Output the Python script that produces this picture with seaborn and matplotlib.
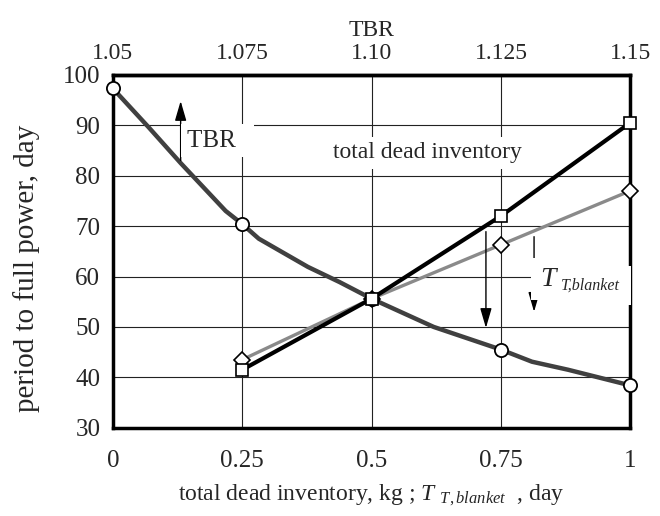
import numpy as np
import pandas as pd
import seaborn as sns
import matplotlib.pyplot as plt

# TBR curve (dark gray)
tbrX = [0, 0.07, 0.131, 0.218, 0.25, 0.282, 0.321, 0.377, 0.438, 0.5, 0.62, 0.75, 0.81, 0.88, 1]
tbrY = [97.3, 89.5, 82.5, 73.0, 70.4, 67.5, 65.2, 61.9, 58.9, 55.6, 50.0, 45.5, 43.1, 41.5, 38.4]
tbrMarkX = [0, 0.25, 0.5, 0.75, 1]
tbrMarkY = [97.3, 70.4, 55.6, 45.5, 38.4]

# total dead inventory (black) and T_T,blanket (gray)
invX = [0.25, 0.5, 0.75, 1]
invY = [41.5, 55.6, 72.0, 90.5]
blkX = [0.25, 0.5, 0.75, 1]
blkY = [43.5, 55.6, 66.3, 77.0]

xTicks = [0, 0.25, 0.5, 0.75, 1]
xTickLabels = ["0", "0.25", "0.5", "0.75", "1"]
topTicks = [1.05, 1.075, 1.10, 1.125, 1.15]
topTickLabels = ["1.05", "1.075", "1.10", "1.125", "1.15"]
yTicks = [30, 40, 50, 60, 70, 80, 90, 100]

sns.set_style("white")
plt.rcParams["font.family"] = ["Liberation Serif", "DejaVu Serif"]
plt.rcParams["mathtext.fontset"] = "custom"
plt.rcParams["mathtext.rm"] = "Liberation Serif"
plt.rcParams["mathtext.it"] = "Liberation Serif:italic"

fig = plt.figure(figsize=(6.6, 5.16), dpi=100)
ax = fig.add_axes([0.171, 0.171, 0.784, 0.684])

curve = pd.DataFrame({"x": tbrX, "y": tbrY})
sns.lineplot(data=curve, x="x", y="y", ax=ax, color="#404040", lw=3.2, zorder=3)
sns.lineplot(x=blkX, y=blkY, ax=ax, color="#8a8a8a", lw=2.4, zorder=4,
             marker="D", markersize=8, markerfacecolor="white",
             markeredgecolor="black", markeredgewidth=1.2)
sns.lineplot(x=invX, y=invY, ax=ax, color="black", lw=3, zorder=5,
             marker="s", markersize=9, markerfacecolor="white",
             markeredgecolor="black", markeredgewidth=1.2)
sns.scatterplot(x=tbrMarkX, y=tbrMarkY, ax=ax, marker="o", s=90,
                facecolor="white", edgecolor="black", linewidth=1.3,
                zorder=4, clip_on=False)
for c in ax.collections:
  c.set_clip_on(False)
for l in ax.lines:
  l.set_clip_on(False)

ax.set_xlim(0, 1)
ax.set_ylim(30, 100)
ax.set_xticks(xTicks)
ax.set_xticklabels(xTickLabels)
ax.set_yticks(yTicks)
ax.tick_params(axis="x", length=0, labelsize=18, pad=16)
ax.tick_params(axis="y", length=0, labelsize=18, pad=9)
ax.grid(True, color="#222222", lw=0.8)
ax.set_axisbelow(True)
for s in ax.spines.values():
  s.set_linewidth(2.5)
  s.set_color("black")

ax.set_xlabel(r"total dead inventory, kg ; $T$ $_{T,blanket}$  , day", fontsize=17, labelpad=8)
ax.set_ylabel("period to full power, day", fontsize=21)
ax.yaxis.set_label_coords(-0.14, 0.453)

top = ax.secondary_xaxis("top", functions=(lambda x: 1.05 + 0.1 * x, lambda t: (t - 1.05) / 0.1))
top.set_xticks(topTicks)
top.set_xticklabels(topTickLabels)
top.tick_params(length=0, labelsize=17, pad=8)
top.set_xlabel("TBR", fontsize=17, labelpad=5)
top.spines["top"].set_linewidth(2.5)

arrow = dict(arrowstyle="-|>,head_length=1.2,head_width=0.35", color="black", lw=1, shrinkA=0, shrinkB=0)
ax.annotate("", xy=(0.131, 94.8), xytext=(0.131, 83.0), arrowprops=arrow, zorder=6)
ax.annotate("", xy=(0.721, 49.8), xytext=(0.721, 68.9), arrowprops=arrow, zorder=6)
ax.annotate("", xy=(0.814, 53.0), xytext=(0.814, 67.9), arrowprops=arrow, zorder=6)

box = dict(facecolor="white", edgecolor="none", pad=4)
ax.text(0.143, 86.9, "TBR  ", fontsize=18, va="center", ha="left", bbox=box, zorder=6)
ax.text(0.608, 84.5, "total dead inventory", fontsize=17, va="center", ha="center", bbox=box, zorder=6)
# white patch behind the T_T,blanket label, reaching over the right spine
ax.text(0.825, 59.5, "T", fontsize=20, style="italic", va="center", ha="left", color="white",
        bbox=dict(facecolor="white", edgecolor="none", pad=6), zorder=6)
ax.text(0.866, 58.2, "T,blanket", fontsize=11.5, style="italic", va="center", ha="left",
        bbox=dict(facecolor="white", edgecolor="none", pad=8), zorder=7, clip_on=False)
ax.text(0.825, 59.5, "T", fontsize=20, style="italic", va="center", ha="left", zorder=8)

plt.savefig("out.png", dpi=100)
